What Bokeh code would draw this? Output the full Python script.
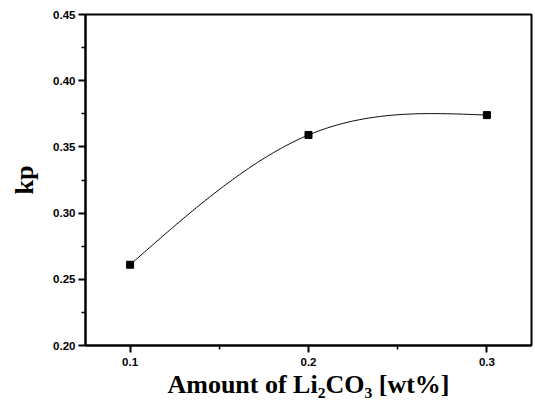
import numpy as np
from bokeh.plotting import figure
from bokeh.models import FixedTicker, NumeralTickFormatter, Range1d
from bokeh.embed import file_html
from bokeh.resources import INLINE

# data
amount = [0.1, 0.2, 0.3]
kp = [0.261, 0.359, 0.374]
x_ticks = [0.1, 0.2, 0.3]
x_minor = [0.15, 0.25]
y_ticks = [0.20, 0.25, 0.30, 0.35, 0.40, 0.45]
y_minor = [0.225, 0.275, 0.325, 0.375, 0.425]


def natural_spline(xs, ys, n=200):
    xs = np.asarray(xs, float)
    ys = np.asarray(ys, float)
    k = len(xs)
    h = np.diff(xs)
    A = np.zeros((k, k))
    b = np.zeros(k)
    A[0, 0] = 1
    A[-1, -1] = 1
    for i in range(1, k - 1):
        A[i, i - 1] = h[i - 1]
        A[i, i] = 2 * (h[i - 1] + h[i])
        A[i, i + 1] = h[i]
        b[i] = 6 * ((ys[i + 1] - ys[i]) / h[i] - (ys[i] - ys[i - 1]) / h[i - 1])
    M = np.linalg.solve(A, b)
    xx = np.linspace(xs[0], xs[-1], n)
    yy = np.empty_like(xx)
    for j, x in enumerate(xx):
        i = min(np.searchsorted(xs, x, side="right") - 1, k - 2)
        t1 = xs[i + 1] - x
        t0 = x - xs[i]
        hi = h[i]
        yy[j] = (M[i] * t1 ** 3 / (6 * hi) + M[i + 1] * t0 ** 3 / (6 * hi)
                 + (ys[i] / hi - M[i] * hi / 6) * t1
                 + (ys[i + 1] / hi - M[i + 1] * hi / 6) * t0)
    return xx, yy


p = figure(width=535, height=405, output_backend="svg", toolbar_location=None,
           x_range=Range1d(0.075, 0.325), y_range=Range1d(0.20, 0.45),
           min_border_left=85, min_border_right=4, min_border_top=14,
           min_border_bottom=60)
p.background_fill_color = "white"
p.border_fill_color = "white"
p.grid.visible = False
p.outline_line_color = "black"
p.outline_line_width = 2

sx, sy = natural_spline(amount, kp)
p.line(sx, sy, line_color="black", line_width=1)
p.scatter(amount, kp, marker="square", size=7, color="black")

for ax in (p.xaxis[0], p.yaxis[0]):
    ax.axis_line_width = 2
    ax.major_tick_line_width = 2
    ax.minor_tick_line_width = 1.5
    ax.major_tick_in = 0
    ax.major_tick_out = 7
    ax.minor_tick_in = 0
    ax.minor_tick_out = 4
    ax.major_label_text_font = "Liberation Sans"
    ax.major_label_text_font_style = "bold"
    ax.major_label_text_font_size = "11.5px"
    ax.major_label_text_color = "black"
    ax.axis_label_text_font = "Liberation Serif"
    ax.axis_label_text_font_style = "bold"
    ax.axis_label_text_font_size = "26px"
    ax.axis_label_text_color = "black"

p.xaxis[0].ticker = FixedTicker(ticks=x_ticks, minor_ticks=x_minor)
p.yaxis[0].ticker = FixedTicker(ticks=y_ticks, minor_ticks=y_minor)
p.xaxis[0].formatter = NumeralTickFormatter(format="0.0")
p.yaxis[0].formatter = NumeralTickFormatter(format="0.00")
p.xaxis[0].major_label_standoff = 5
p.yaxis[0].major_label_standoff = 3
p.xaxis[0].axis_label = "Amount of Li\u2082CO\u2083 [wt%]"
p.yaxis[0].axis_label = "kp"
p.xaxis[0].axis_label_standoff = 1
p.yaxis[0].axis_label_standoff = 11

open("out.html", "w").write(file_html(p, INLINE))
